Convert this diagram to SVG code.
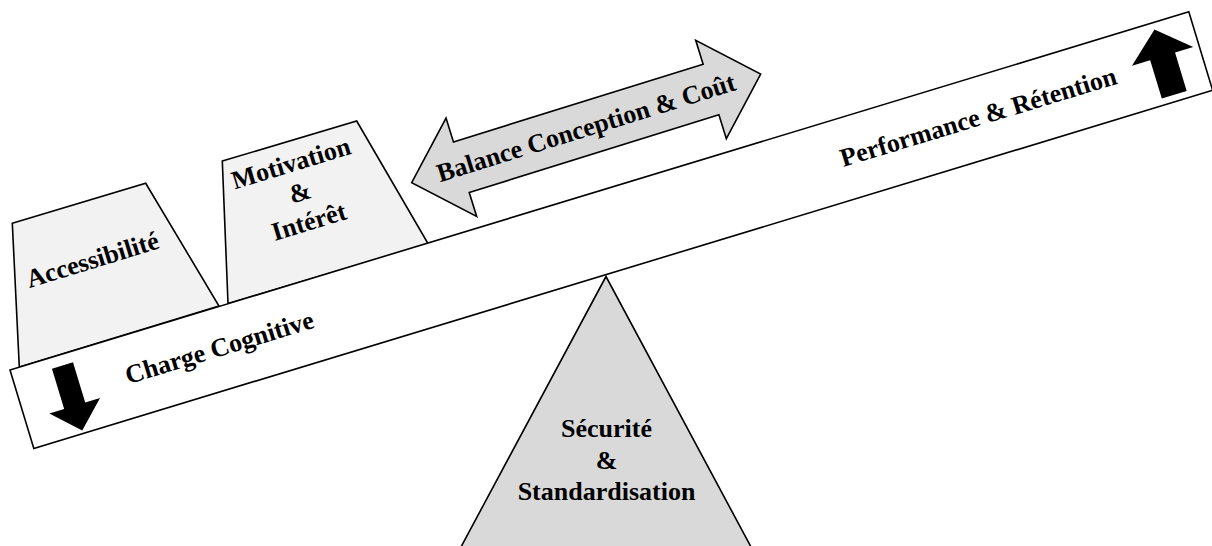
<svg xmlns="http://www.w3.org/2000/svg" width="1212" height="546" viewBox="0 0 1212 546">
<style>
  .shape { stroke: #000; stroke-width: 1.6; stroke-linejoin: miter; }
  .light { fill: #f2f2f2; }
  .mid { fill: #d9d9d9; }
  .white { fill: #ffffff; }
  .blk { fill: #000; stroke: none; }
  text { font-family: "Liberation Serif", "Times New Roman", serif; font-weight: bold; font-size: 26px; fill: #000; }
  .c { text-anchor: middle; }
</style>
<rect width="1212" height="546" fill="#ffffff"/>

<g id="node-accessibilite">
  <polygon class="shape light" points="12.3,223.3 145.7,183.3 219,306 19.3,367"/>
  <g transform="translate(95,268) rotate(-17)">
    <text class="c" x="0" y="0">Accessibilité</text>
  </g>
</g>

<g id="node-motivation">
  <polygon class="shape light" points="222.3,161 356.7,121 428.3,244 228,303.5"/>
  <g transform="translate(293.5,171.5) rotate(-17)">
    <text class="c" x="0" y="0">Motivation</text>
    <text class="c" x="0" y="30.5">&amp;</text>
    <text class="c" x="0" y="61">Intérêt</text>
  </g>
</g>

<g id="node-pivot">
  <polygon class="shape mid" points="606,276.5 454,560 758,560"/>
  <text class="c" x="606.5" y="437">Sécurité</text>
  <text class="c" x="606.5" y="468.5">&amp;</text>
  <text class="c" x="606.5" y="500">Standardisation</text>
</g>

<g id="node-beam" transform="translate(10,370) rotate(-16.9)">
  <rect class="shape white" x="0" y="0" width="1232" height="82"/>
  <polygon class="blk" points="40.5,11 62.5,11 62.5,53 78,53 51.5,79 25,53 40.5,53"/>
  <text x="109" y="48">Charge Cognitive</text>
  <text x="856.4" y="48">Performance &amp; Rétention</text>
  <polygon class="blk" points="1194,7 1226,35 1207,35 1207,75 1181,75 1181,35 1162,35"/>
</g>

<g id="node-balance" transform="translate(411.7,182.7) rotate(-17.3)">
  <polygon class="shape mid" points="0,0 52,-51.5 52,-26.5 313.5,-26.5 313.5,-51.5 365.5,0 313.5,51.5 313.5,26.5 52,26.5 52,51.5"/>
  <text class="c" x="182.75" y="8">Balance Conception &amp; Coût</text>
</g>

<g id="connectors"></g>
</svg>
